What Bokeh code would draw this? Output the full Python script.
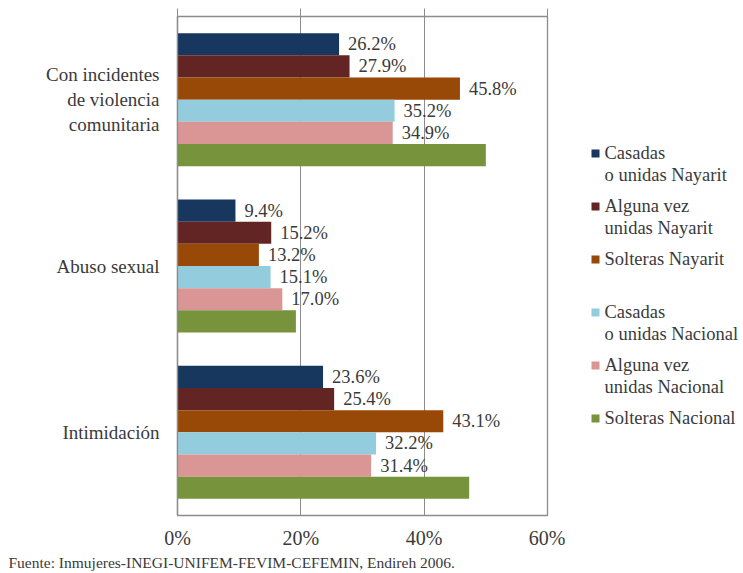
from bokeh.plotting import figure
from bokeh.models import (ColumnDataSource, FactorRange, Range1d, FixedTicker,
                          LinearAxis, Title)
from bokeh.transform import dodge
from bokeh.layouts import row
from bokeh.embed import file_html
from bokeh.resources import INLINE
from bokeh.core.properties import value

# ---------------- data ----------------
categories = ["Con incidentes\nde violencia\ncomunitaria", "Abuso sexual", "Intimidación"]
series_names = ["Casadas\no unidas Nayarit", "Alguna vez\nunidas Nayarit", "Solteras Nayarit",
                "Casadas\no unidas Nacional", "Alguna vez\nunidas Nacional", "Solteras Nacional"]
series_colors = ["#17375E", "#632523", "#984807", "#93CDDD", "#D99694", "#77933C"]
casadas_nayarit = [26.2, 9.4, 23.6]
alguna_nayarit = [27.9, 15.2, 25.4]
solteras_nayarit = [45.8, 13.2, 43.1]
casadas_nacional = [35.2, 15.1, 32.2]
alguna_nacional = [34.9, 17.0, 31.4]
solteras_nacional = [50.0, 19.2, 47.3]
series_values = [casadas_nayarit, alguna_nayarit, solteras_nayarit,
                 casadas_nacional, alguna_nacional, solteras_nacional]
labelled = [True, True, True, True, True, False]
x_ticks = [0, 20, 40, 60]
x_tick_labels = ["0%", "20%", "40%", "60%"]
source_text = "Fuente: Inmujeres-INEGI-UNIFEM-FEVIM-CEFEMIN, Endireh 2006."

FONT = "Liberation Serif"
TXT = "#3a3a3a"
GRID = "#8c8c8c"

# ---------------- main chart ----------------
p = figure(width=565, height=573, output_backend="svg", toolbar_location=None,
           x_range=Range1d(0, 60), y_range=FactorRange(*reversed(categories)),
           x_axis_location="below")
p.min_border_left = 177
p.min_border_right = 18
p.min_border_top = 16
p.min_border_bottom = 58
p.outline_line_color = GRID
p.outline_line_width = 1.3
p.background_fill_color = "white"
p.border_fill_color = "white"

n = len(series_values)
bar_h = 0.8 / n
for i, (name, col, vals, lab) in enumerate(zip(series_names, series_colors, series_values, labelled)):
    off = 0.4 - bar_h / 2 - i * bar_h
    src = ColumnDataSource(dict(cat=categories, val=vals,
                                txt=["%.1f%%" % v for v in vals]))
    p.hbar(y=dodge("cat", off, range=p.y_range), right="val", left=0, height=bar_h,
           source=src, fill_color=col, line_color=None)
    if lab:
        p.text(x="val", y=dodge("cat", off, range=p.y_range), text="txt", source=src,
               x_offset=9, text_align="left", text_baseline="middle",
               text_font=value(FONT), text_font_size="18.5px", text_font_style="normal",
               text_color=TXT)

# axes
xa = p.xaxis[0]
xa.ticker = FixedTicker(ticks=x_ticks)
xa.major_label_overrides = {t: l for t, l in zip(x_ticks, x_tick_labels)}
xa.major_tick_line_color = None
xa.minor_tick_line_color = None
xa.axis_line_color = GRID
xa.major_label_standoff = 5
xa.major_label_text_font = FONT
xa.major_label_text_font_size = "20px"
xa.major_label_text_font_style = "normal"
xa.major_label_text_color = TXT

ya = p.yaxis[0]
ya.major_tick_line_color = None
ya.axis_line_color = GRID
ya.axis_line_width = 1.3
ya.major_label_text_font = FONT
ya.major_label_text_font_size = "19px"
ya.major_label_text_font_style = "normal"
ya.major_label_text_color = TXT
ya.major_label_text_align = "center"
ya.major_label_standoff = 12

top = LinearAxis(ticker=FixedTicker(ticks=x_ticks),
                 major_label_overrides={t: "" for t in x_ticks},
                 major_label_text_color=None, major_label_text_font_size="1px",
                 major_tick_out=8, major_tick_in=0, minor_tick_line_color=None,
                 major_tick_line_color=GRID, axis_line_color=GRID, major_label_standoff=0)
p.add_layout(top, "above")

p.xgrid.ticker = FixedTicker(ticks=x_ticks)
p.xgrid.grid_line_color = GRID
p.ygrid.grid_line_color = None

p.add_layout(Title(text=source_text, align="left", offset=-169, standoff=0,
                   text_font=FONT, text_font_size="15.5px", text_font_style="normal",
                   text_color=TXT), "below")

# ---------------- legend panel ----------------
# the row aligns this panel's frame with the chart frame (page y 16..515)
lg = figure(width=178, height=573, output_backend="svg", toolbar_location=None,
            x_range=Range1d(0, 178), y_range=Range1d(515, 16),
            min_border=0, outline_line_color=None)
lg.axis.visible = False
lg.grid.visible = False
first_y = 153
step = 53
ly = [first_y + step * i for i in range(n)]
half_line = 11
lsrc = ColumnDataSource(dict(y=ly, ty=[y - half_line for y in ly],
                             name=series_names, color=series_colors))
lg.rect(x=30, y="y", width=8, height=8, source=lsrc, fill_color="color", line_color=None)
lg.text(x=39, y="ty", text="name", source=lsrc, text_align="left", text_baseline="top",
        text_font=value(FONT), text_font_size="18.5px", text_font_style="normal",
        text_color=TXT, text_line_height=1.1)

layout = row(p, lg)
open("out.html", "w").write(file_html(layout, INLINE))
